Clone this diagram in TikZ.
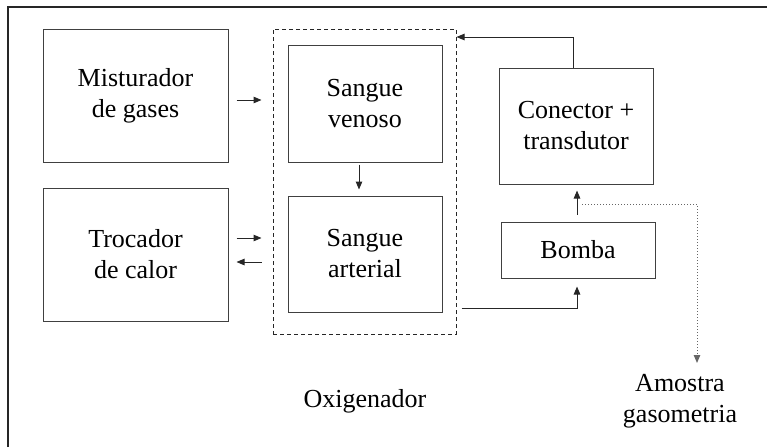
\documentclass[tikz,border=0pt]{standalone}
\usepackage{fontspec}
\setmainfont{Liberation Serif}
\usetikzlibrary{arrows.meta}
\usetikzlibrary{positioning}
\tikzset{
    blk/.style = {rectangle, draw=black!75, line width=1pt, inner sep=0pt, align=center, minimum width=#1},
    blk/.default = {154pt},
    oxybox/.style = {rectangle, draw=black!85, line width=1pt, dashed, dash pattern=on 4pt off 3pt, minimum width=183pt, minimum height=305pt},
    lbl/.style = {align=center, inner sep=0pt},
    edgen/.style = {-{Triangle[length=8pt,width=6.5pt]}, line width=1pt, black!85},
    edged/.style = {-{Triangle[length=8pt,width=6.5pt]}, line width=1pt, black!60, dotted},
    frame/.style = {line width=2pt, black!85},
    every picture/.style={font issue=\fontsize{26}{31}},
    font issue/.style={execute at begin picture={#1\selectfont}}
}

\begin{document}
\begin{tikzpicture}[x=1pt,y=-1pt]
\useasboundingbox (0,0) rectangle (767,447);
\draw[frame] (8,447) -- (8,7) -- (767,7);
%
\node[blk=185pt, minimum height=133pt] at (135.5, 95.5) (mist) {Misturador\\de gases};
\node[blk=185pt, minimum height=133pt] at (135.5,254.5) (troc) {Trocador\\de calor};
\node[oxybox] at (364.5,181.5) (oxy) {};
\node[blk, minimum height=117pt] at (365,103.5) (ven) {Sangue\\venoso};
\node[blk, minimum height=116pt] at (365,254) (art) {Sangue\\arterial};
\node[blk, minimum height=116pt] at (576,126) (con) {Conector +\\transdutor};
\node[blk, minimum height=56pt] at (578,250) (bomba) {Bomba};
\node[lbl] at (365,401) (oxylbl) {Oxigenador};
\node[lbl] at (680,401) (amo) {Amostra\\gasometria};
\coordinate (smp) at (697,363);
%
\draw[edgen, shorten <=8pt, shorten >=11pt] (mist.east |- 0,100) -- (oxy.west |- 0,100);
\draw[edgen, shorten <=8pt, shorten >=11pt] (troc.east |- 0,238) -- (oxy.west |- 0,238);
\draw[edgen, shorten <=11pt, shorten >=8pt] (oxy.west |- 0,262) -- (troc.east |- 0,262);
\draw[edgen, shorten <=2pt, shorten >=6pt] ([xshift=-6pt]ven.south) -- ([xshift=-6pt]art.north);
\draw[edgen] ([xshift=-3pt]con.north) |- (oxy.east |- 0,37);
\draw[edgen, shorten <=5pt, shorten >=8pt] (oxy.east |- 0,308) -| ([xshift=-1pt]bomba.south);
\draw[edgen, shorten <=7pt, shorten >=6pt] ([xshift=-1pt]bomba.north) -- ([xshift=1pt]con.south);
\draw[edged] (582,204) -| (smp);
\end{tikzpicture}
\end{document}
